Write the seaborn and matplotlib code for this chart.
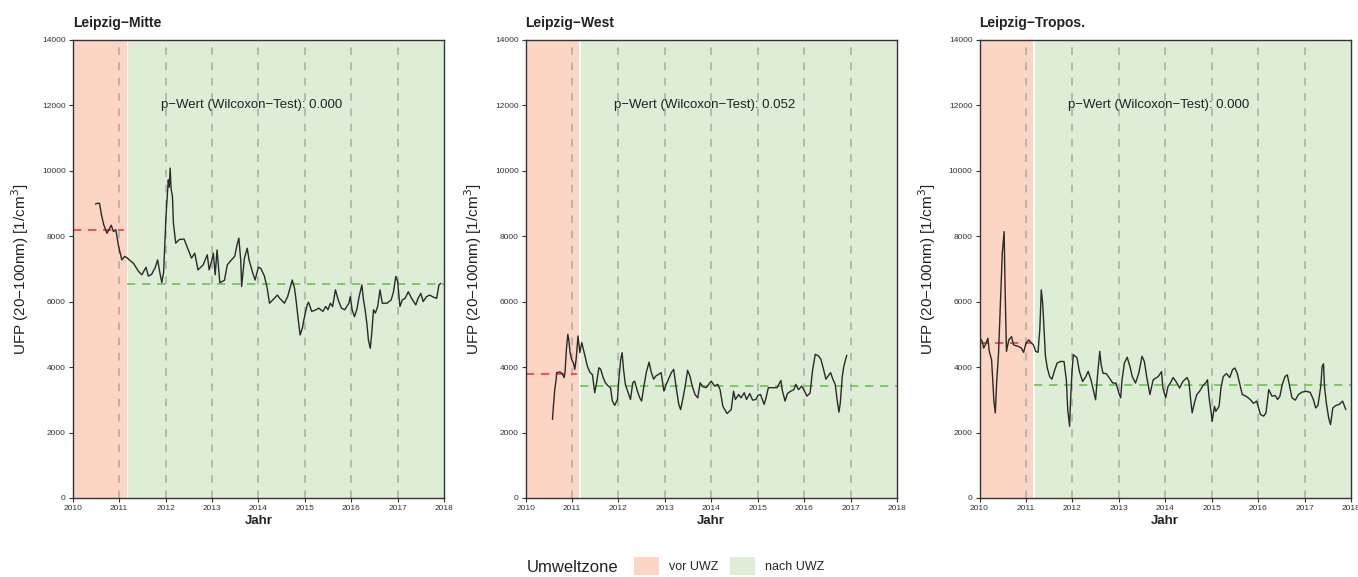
import matplotlib
matplotlib.use("Agg")
import matplotlib.pyplot as plt
from matplotlib.patches import Patch
import seaborn as sns
import pandas as pd

# ---- data ----
stations = ["Leipzig−Mitte", "Leipzig−West", "Leipzig−Tropos."]
p_values = ["0.000", "0.052", "0.000"]
mean_before = [8200, 3800, 4720]
mean_after = [6530, 3410, 3440]

mitte_t = [2010.49, 2010.55, 2010.58, 2010.62, 2010.67, 2010.74, 2010.80, 2010.83, 2010.88, 2010.93,
           2010.99, 2011.06, 2011.12, 2011.16, 2011.20, 2011.31, 2011.42, 2011.49, 2011.58, 2011.63,
           2011.70, 2011.78, 2011.83, 2011.88, 2011.92, 2011.96, 2012.01, 2012.04, 2012.06, 2012.08,
           2012.10, 2012.12, 2012.15, 2012.17, 2012.22, 2012.30, 2012.40, 2012.49, 2012.56, 2012.63,
           2012.70, 2012.81, 2012.90, 2012.94, 2013.00, 2013.03, 2013.07, 2013.11, 2013.17, 2013.27,
           2013.33, 2013.42, 2013.49, 2013.54, 2013.58, 2013.62, 2013.64, 2013.70, 2013.76, 2013.80,
           2013.88, 2013.93, 2014.00, 2014.05, 2014.13, 2014.19, 2014.24, 2014.31, 2014.41, 2014.46,
           2014.56, 2014.63, 2014.73, 2014.78, 2014.82, 2014.86, 2014.90, 2014.95, 2014.98, 2015.05,
           2015.08, 2015.15, 2015.24, 2015.30, 2015.39, 2015.45, 2015.50, 2015.55, 2015.60, 2015.66,
           2015.72, 2015.79, 2015.86, 2015.95, 2015.98, 2016.02, 2016.07, 2016.12, 2016.17, 2016.23,
           2016.26, 2016.30, 2016.34, 2016.37, 2016.41, 2016.44, 2016.48, 2016.52, 2016.57, 2016.62,
           2016.67, 2016.77, 2016.86, 2016.91, 2016.96, 2017.00, 2017.05, 2017.10, 2017.16, 2017.23,
           2017.30, 2017.39, 2017.44, 2017.50, 2017.55, 2017.62, 2017.69, 2017.78, 2017.84, 2017.89,
           2017.93]
mitte_v = [8980, 9010, 9000, 8650, 8345, 8090, 8250, 8335, 8140, 8200,
           7680, 7275, 7380, 7350, 7300, 7170, 6920, 6820, 7050, 6780,
           6830, 7050, 7275, 6870, 6585, 6900, 8600, 9300, 9720, 9500,
           10080, 9450, 9210, 8400, 7785, 7900, 7910, 7580, 7330, 7480,
           6970, 7120, 7430, 6970, 7275, 7480, 6820, 7580, 6580, 6650,
           7120, 7275, 7380, 7730, 7940, 7270, 6460, 7330, 7630, 7270,
           6870, 6660, 7050, 7020, 6780, 6410, 5950, 6050, 6200, 6100,
           5950, 6150, 6660, 6400, 5950, 5440, 4980, 5200, 5440, 5900,
           5980, 5700, 5750, 5800, 5700, 5850, 5750, 5950, 5850, 6360,
           6050, 5800, 5750, 5950, 6150, 5750, 5540, 5750, 6150, 6510,
           6100, 5750, 5290, 4830, 4575, 5000, 5750, 5650, 5850, 6360,
           5950, 5950, 6050, 6300, 6770, 6610, 5850, 6050, 6100, 6300,
           6100, 5900, 6100, 6250, 6000, 6150, 6200, 6130, 6100, 6510,
           6560]

west_t = [2010.58, 2010.60, 2010.63, 2010.66, 2010.67, 2010.74, 2010.79, 2010.83, 2010.85, 2010.88,
          2010.91, 2010.93, 2010.96, 2010.99, 2011.03, 2011.06, 2011.09, 2011.13, 2011.17, 2011.21,
          2011.28, 2011.33, 2011.39, 2011.44, 2011.49, 2011.53, 2011.58, 2011.62, 2011.67, 2011.72,
          2011.78, 2011.83, 2011.87, 2011.92, 2011.98, 2012.01, 2012.05, 2012.08, 2012.11, 2012.15,
          2012.21, 2012.26, 2012.31, 2012.35, 2012.41, 2012.46, 2012.50, 2012.55, 2012.60, 2012.66,
          2012.71, 2012.76, 2012.81, 2012.86, 2012.92, 2012.98, 2013.03, 2013.08, 2013.14, 2013.19,
          2013.24, 2013.30, 2013.34, 2013.40, 2013.45, 2013.49, 2013.54, 2013.59, 2013.65, 2013.71,
          2013.76, 2013.82, 2013.89, 2014.00, 2014.07, 2014.14, 2014.19, 2014.25, 2014.34, 2014.43,
          2014.48, 2014.52, 2014.59, 2014.64, 2014.71, 2014.76, 2014.83, 2014.89, 2014.96, 2015.01,
          2015.06, 2015.14, 2015.18, 2015.23, 2015.32, 2015.42, 2015.50, 2015.53, 2015.59, 2015.64,
          2015.71, 2015.78, 2015.82, 2015.88, 2015.95, 2016.01, 2016.06, 2016.13, 2016.18, 2016.24,
          2016.31, 2016.36, 2016.41, 2016.47, 2016.52, 2016.57, 2016.62, 2016.67, 2016.71, 2016.75,
          2016.78, 2016.82, 2016.85, 2016.89, 2016.92]
west_v = [2400, 2800, 3320, 3630, 3830, 3850, 3800, 3675, 3830, 4540,
          5000, 4850, 4440, 4240, 4130, 3930, 4240, 4950, 4440, 4750,
          4340, 4030, 3830, 3770, 3215, 3520, 3980, 3930, 3680, 3520,
          3420, 3370, 2960, 2830, 3010, 3630, 4240, 4440, 3930, 3470,
          3215, 3010, 3520, 3570, 3260, 3060, 2960, 3420, 3830, 4150,
          3830, 3630, 3730, 3770, 3830, 3265, 3470, 3630, 3830, 3930,
          3420, 2860, 2700, 3110, 3520, 3900, 3730, 3420, 3160, 3060,
          3520, 3400, 3370, 3570, 3420, 3470, 3310, 2800, 2580, 2700,
          3260, 3010, 3160, 3060, 3215, 3010, 3190, 2990, 3010, 3140,
          3160, 2860, 3060, 3370, 3370, 3370, 3590, 3290, 2960, 3190,
          3260, 3310, 3470, 3310, 3420, 3260, 3110, 3210, 3880, 4390,
          4340, 4240, 3980, 3630, 3730, 3830, 3630, 3470, 3010, 2620,
          2910, 3680, 3980, 4220, 4360]

tropos_t = [2010.03, 2010.06, 2010.09, 2010.14, 2010.18, 2010.21, 2010.26, 2010.28, 2010.31, 2010.34,
            2010.37, 2010.41, 2010.45, 2010.49, 2010.51, 2010.53, 2010.55, 2010.58, 2010.63, 2010.69,
            2010.73, 2010.79, 2010.84, 2010.90, 2010.95, 2011.00, 2011.06, 2011.11, 2011.16, 2011.21,
            2011.26, 2011.30, 2011.33, 2011.36, 2011.39, 2011.42, 2011.46, 2011.51, 2011.56, 2011.61,
            2011.67, 2011.74, 2011.82, 2011.87, 2011.90, 2011.94, 2011.96, 2011.99, 2012.02, 2012.10,
            2012.15, 2012.22, 2012.29, 2012.34, 2012.40, 2012.45, 2012.50, 2012.54, 2012.59, 2012.62,
            2012.66, 2012.73, 2012.80, 2012.87, 2012.94, 2013.00, 2013.04, 2013.07, 2013.12, 2013.18,
            2013.24, 2013.29, 2013.36, 2013.43, 2013.50, 2013.55, 2013.60, 2013.67, 2013.74, 2013.85,
            2013.92, 2013.95, 2014.01, 2014.06, 2014.11, 2014.17, 2014.23, 2014.31, 2014.38, 2014.47,
            2014.51, 2014.54, 2014.58, 2014.63, 2014.68, 2014.74, 2014.81, 2014.88, 2014.91, 2014.95,
            2014.99, 2015.01, 2015.06, 2015.09, 2015.16, 2015.20, 2015.25, 2015.32, 2015.39, 2015.45,
            2015.50, 2015.55, 2015.60, 2015.66, 2015.74, 2015.83, 2015.90, 2015.97, 2016.05, 2016.12,
            2016.17, 2016.23, 2016.30, 2016.37, 2016.42, 2016.47, 2016.52, 2016.58, 2016.63, 2016.68,
            2016.73, 2016.80, 2016.87, 2016.94, 2017.03, 2017.12, 2017.19, 2017.24, 2017.29, 2017.35,
            2017.38, 2017.41, 2017.43, 2017.47, 2017.52, 2017.56, 2017.61, 2017.68, 2017.75, 2017.82,
            2017.89]
tropos_v = [4850, 4780, 4580, 4730, 4880, 4480, 4220, 3710, 2950, 2600,
            3560, 4430, 5950, 7480, 7800, 8140, 6460, 4480, 4830, 4930,
            4680, 4650, 4630, 4580, 4450, 4730, 4830, 4750, 4680, 4480,
            4450, 5190, 6360, 5950, 5140, 4330, 3970, 3710, 3630, 3870,
            4120, 4170, 4170, 3610, 2700, 2190, 2950, 3810, 4380, 4280,
            3870, 3560, 3710, 3870, 3610, 3310, 3000, 3710, 4480, 4070,
            3810, 3800, 3660, 3510, 3510, 3210, 3060, 3610, 4120, 4300,
            4020, 3710, 3510, 3810, 4330, 4170, 3710, 3160, 3610, 3710,
            3860, 3360, 3060, 3410, 3510, 3680, 3560, 3360, 3560, 3680,
            3560, 3110, 2600, 2910, 3160, 3260, 3430, 3530, 3610, 3000,
            2600, 2340, 2800, 2650, 2800, 3360, 3710, 3800, 3680, 3920,
            3970, 3810, 3510, 3160, 3110, 3010, 2890, 2960, 2550, 2500,
            2600, 3310, 3110, 3130, 3010, 3110, 3460, 3710, 3760, 3410,
            3060, 2990, 3160, 3230, 3260, 3230, 3010, 2750, 2830, 3410,
            4020, 4100, 3410, 2900, 2450, 2240, 2750, 2830, 2860, 2960,
            2700]

series_t = [mitte_t, west_t, tropos_t]
series_v = [mitte_v, west_v, tropos_v]

uwz_start = 2011.17
years = list(range(2010, 2019))

RED_FILL = "#FCD5C4"
GREEN_FILL = "#DEEDD6"

sns.set_style("ticks")
plt.rcParams["font.family"] = ["Liberation Sans", "DejaVu Sans"]

fig = plt.figure(figsize=(13.58, 5.77), dpi=100)
lefts = [0.0535, 0.387, 0.7213]
width, bottom, height = 0.2735, 0.137, 0.794

for i in range(3):
    ax = fig.add_axes([lefts[i], bottom, width, height])
    ax.set_facecolor("white")
    ax.axvspan(2010, uwz_start - 0.01, color=RED_FILL, lw=0, zorder=0)
    ax.axvspan(uwz_start + 0.025, 2018, color=GREEN_FILL, lw=0, zorder=0)
    for yr in years[1:-1]:
        ax.axvline(yr, color="#A9A9A9", lw=1.1, ls=(0, (5, 5)), zorder=1)

    df = pd.DataFrame({"Jahr": series_t[i], "UFP": series_v[i]})
    sns.lineplot(data=df, x="Jahr", y="UFP", ax=ax, color="#2a2a2a",
                 lw=1.0, estimator=None, zorder=3)

    ax.plot([2010, uwz_start - 0.06], [mean_before[i]] * 2, color="#EE3B3B",
            lw=1.2, ls=(0, (5, 4)), zorder=2)
    ax.plot([uwz_start, 2018], [mean_after[i]] * 2, color="#6DC34D",
            lw=1.2, ls=(0, (5, 4)), zorder=2)

    ax.text(2013.85, 12000, f"p−Wert (Wilcoxon−Test): {p_values[i]}",
            ha="center", va="center", fontsize=9.5, color="#222222")

    ax.set_xlim(2010, 2018)
    ax.set_ylim(0, 14000)
    ax.set_xticks(years)
    ax.set_xticklabels([str(y) for y in years], fontsize=6)
    ax.set_yticks(range(0, 14001, 2000))
    ax.set_yticklabels([str(v) for v in range(0, 14001, 2000)], fontsize=6)
    ax.tick_params(length=3, width=0.8, pad=2, colors="#333333")
    for sp in ax.spines.values():
        sp.set_visible(True)
        sp.set_color("#333333")
        sp.set_linewidth(1.0)
    ax.set_xlabel("Jahr", fontsize=9.5, fontweight="bold", labelpad=2, color="#222222")
    ax.set_ylabel("UFP (20−100nm) [1/cm$^3$]", fontsize=11, labelpad=8, color="#222222")
    ax.set_title(stations[i], loc="left", fontsize=10, fontweight="bold",
                 pad=9, color="#222222")

fig.text(0.388, 0.017, "Umweltzone", fontsize=12, va="center", ha="left", color="#222222")
handles = [Patch(facecolor=RED_FILL, edgecolor="none", label="vor UWZ"),
           Patch(facecolor=GREEN_FILL, edgecolor="none", label="nach UWZ")]
fig.legend(handles=handles, loc="center", bbox_to_anchor=(0.537, 0.019), ncol=2,
           frameon=False, fontsize=9, handlelength=2.0, handleheight=1.9,
           columnspacing=0.9, handletextpad=0.8)

fig.savefig("out.png", dpi=100)
